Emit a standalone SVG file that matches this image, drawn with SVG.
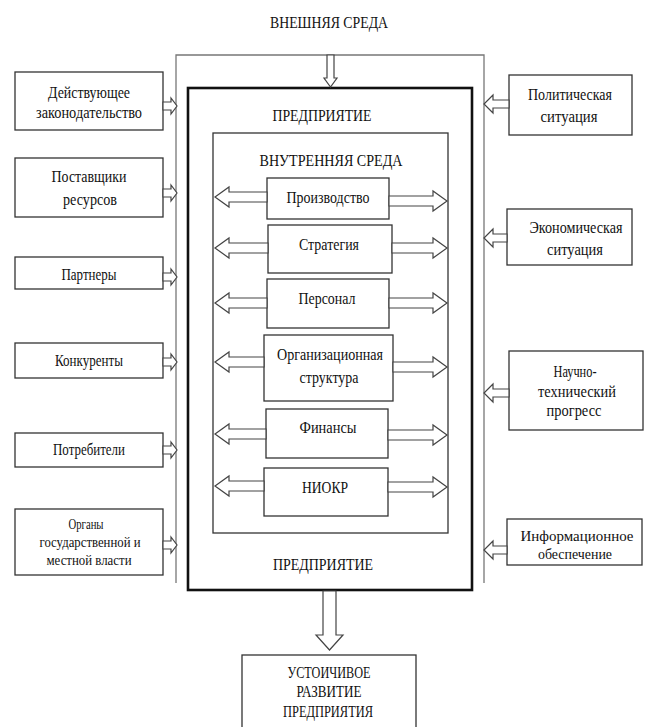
<svg xmlns="http://www.w3.org/2000/svg" width="648" height="727" viewBox="0 0 648 727">
<style>
text{font-family:"Liberation Serif","Times New Roman",serif;font-size:17px;fill:#111;text-anchor:middle}
text.s{font-size:15px}
.box{fill:#fff;stroke:#333;stroke-width:1.3}
.env{fill:none;stroke:#777;stroke-width:1.3}
.ent{fill:none;stroke:#111;stroke-width:2.6}
.arr{fill:#fff;stroke:#444;stroke-width:1.2;stroke-linejoin:miter}
</style>
<rect width="648" height="727" fill="#fff"/>
<g id="title"><text x="329" y="28" textLength="118" lengthAdjust="spacingAndGlyphs">ВНЕШНЯЯ СРЕДА</text></g>
<g id="external-environment"><path class="env" d="M176,583 V55 H484 V583"/></g>
<g id="enterprise"><rect class="ent" x="188" y="88" width="284" height="502"/>
<text x="322" y="121" textLength="99" lengthAdjust="spacingAndGlyphs">ПРЕДПРИЯТИЕ</text>
<text x="323" y="570" textLength="100" lengthAdjust="spacingAndGlyphs">ПРЕДПРИЯТИЕ</text></g>
<g id="internal-environment"><rect class="box" x="213" y="133" width="235" height="400"/>
<text x="331" y="166" textLength="143" lengthAdjust="spacingAndGlyphs">ВНУТРЕННЯЯ СРЕДА</text></g>
<g id="n-proizvodstvo"><rect class="box" x="267" y="178" width="122" height="41"/><text x="328" y="203" textLength="83" lengthAdjust="spacingAndGlyphs">Производство</text></g>
<g id="n-strategiya"><rect class="box" x="268" y="225" width="124" height="48"/><text x="329" y="250" textLength="60" lengthAdjust="spacingAndGlyphs">Стратегия</text></g>
<g id="n-personal"><rect class="box" x="267" y="279" width="122" height="49"/><text x="327" y="304" textLength="57" lengthAdjust="spacingAndGlyphs">Персонал</text></g>
<g id="n-orgstruktura"><rect class="box" x="264" y="335" width="129" height="66"/><text x="330" y="360" textLength="106" lengthAdjust="spacingAndGlyphs">Организационная</text><text x="329" y="383" textLength="59" lengthAdjust="spacingAndGlyphs">структура</text></g>
<g id="n-finansy"><rect class="box" x="266" y="409" width="122" height="49"/><text x="328" y="433" textLength="57" lengthAdjust="spacingAndGlyphs">Финансы</text></g>
<g id="n-niokr"><rect class="box" x="264" y="468" width="124" height="48"/><text x="325" y="493" textLength="46" lengthAdjust="spacingAndGlyphs">НИОКР</text></g>
<g id="n-zakonodatelstvo"><rect class="box" x="15" y="72" width="148" height="58"/><text x="89" y="98" textLength="82" lengthAdjust="spacingAndGlyphs">Действующее</text><text x="89" y="118" textLength="106" lengthAdjust="spacingAndGlyphs">законодательство</text></g>
<g id="n-postavshchiki"><rect class="box" x="15" y="158" width="148" height="59"/><text x="89" y="182" textLength="75" lengthAdjust="spacingAndGlyphs">Поставщики</text><text x="90" y="205" textLength="54" lengthAdjust="spacingAndGlyphs">ресурсов</text></g>
<g id="n-partnery"><rect class="box" x="15" y="257" width="148" height="32"/><text x="89" y="280" textLength="55" lengthAdjust="spacingAndGlyphs">Партнеры</text></g>
<g id="n-konkurenty"><rect class="box" x="15" y="343" width="148" height="35"/><text x="89" y="366" textLength="68" lengthAdjust="spacingAndGlyphs">Конкуренты</text></g>
<g id="n-potrebiteli"><rect class="box" x="15" y="433" width="148" height="34"/><text x="89" y="455" textLength="72" lengthAdjust="spacingAndGlyphs">Потребители</text></g>
<g id="n-organy"><rect class="box" x="15" y="509" width="148" height="66"/><text class="s" x="86" y="529" textLength="35" lengthAdjust="spacingAndGlyphs">Органы</text><text class="s" x="90" y="547" textLength="101" lengthAdjust="spacingAndGlyphs">государственной и</text><text class="s" x="89" y="565" textLength="85" lengthAdjust="spacingAndGlyphs">местной власти</text></g>
<g id="n-politicheskaya"><rect class="box" x="509" y="75" width="123" height="60"/><text x="570" y="100" textLength="84" lengthAdjust="spacingAndGlyphs">Политическая</text><text x="569" y="122" textLength="57" lengthAdjust="spacingAndGlyphs">ситуация</text></g>
<g id="n-ekonomicheskaya"><rect class="box" x="507" y="209" width="125" height="56"/><text x="576" y="233" textLength="93" lengthAdjust="spacingAndGlyphs">Экономическая</text><text x="575" y="255" textLength="56" lengthAdjust="spacingAndGlyphs">ситуация</text></g>
<g id="n-ntp"><rect class="box" x="509" y="351" width="134" height="79"/><text x="575" y="377" textLength="43" lengthAdjust="spacingAndGlyphs">Научно-</text><text x="577" y="397" textLength="78" lengthAdjust="spacingAndGlyphs">технический</text><text x="574" y="416" textLength="55" lengthAdjust="spacingAndGlyphs">прогресс</text></g>
<g id="n-informatsionnoe"><rect class="box" x="507" y="519" width="135" height="46"/><text class="s" x="577" y="541" textLength="113" lengthAdjust="spacingAndGlyphs">Информационное</text><text class="s" x="575" y="559" textLength="74" lengthAdjust="spacingAndGlyphs">обеспечение</text></g>
<g id="n-result"><rect class="box" x="242" y="655" width="174" height="90"/><text x="329" y="678" textLength="83" lengthAdjust="spacingAndGlyphs">УСТОИЧИВОЕ</text><text x="329" y="697" textLength="65" lengthAdjust="spacingAndGlyphs">РАЗВИТИЕ</text><text x="328" y="717" textLength="90" lengthAdjust="spacingAndGlyphs">ПРЕДПРИЯТИЯ</text></g>
<g id="connectors">
<polygon class="arr" points="327,55 334,55 334,78 337,78 330.5,87 324,78 327,78"/>
<polygon class="arr" points="323,591 336,591 336,635 343,635 329.5,650 316,635 323,635"/>
<polygon class="arr" points="163,102 171,102 171,98 177,106 171,114 171,110 163,110"/>
<polygon class="arr" points="163,189 171,189 171,185 177,193 171,201 171,197 163,197"/>
<polygon class="arr" points="163,273 171,273 171,269 177,277 171,285 171,281 163,281"/>
<polygon class="arr" points="163,358 171,358 171,354 177,362 171,370 171,366 163,366"/>
<polygon class="arr" points="163,446 171,446 171,442 177,450 171,458 171,454 163,454"/>
<polygon class="arr" points="163,541 171,541 171,537 177,545 171,553 171,549 163,549"/>
<polygon class="arr" points="509,100 493,100 493,95 484,104 493,113 493,108 509,108"/>
<polygon class="arr" points="507,234 493,234 493,229 484,238 493,247 493,242 507,242"/>
<polygon class="arr" points="509,389 493,389 493,384 484,393 493,402 493,397 509,397"/>
<polygon class="arr" points="507,546 493,546 493,541 484,550 493,559 493,554 507,554"/>
<polygon class="arr" points="267,192 229,192 229,187 215,197 229,207 229,202 267,202"/>
<polygon class="arr" points="389,196 433,196 433,191 447,201 433,211 433,206 389,206"/>
<polygon class="arr" points="268,243 229,243 229,238 215,248 229,258 229,253 268,253"/>
<polygon class="arr" points="392,243 433,243 433,238 447,248 433,258 433,253 392,253"/>
<polygon class="arr" points="267,298 229,298 229,293 215,303 229,313 229,308 267,308"/>
<polygon class="arr" points="389,298 433,298 433,293 447,303 433,313 433,308 389,308"/>
<polygon class="arr" points="264,357 229,357 229,352 215,362 229,372 229,367 264,367"/>
<polygon class="arr" points="393,362 433,362 433,357 447,367 433,377 433,372 393,372"/>
<polygon class="arr" points="266,429 229,429 229,424 215,434 229,444 229,439 266,439"/>
<polygon class="arr" points="388,430 433,430 433,425 447,435 433,445 433,440 388,440"/>
<polygon class="arr" points="264,481 229,481 229,476 215,486 229,496 229,491 264,491"/>
<polygon class="arr" points="388,482 433,482 433,477 447,487 433,497 433,492 388,492"/>
</g>
</svg>
